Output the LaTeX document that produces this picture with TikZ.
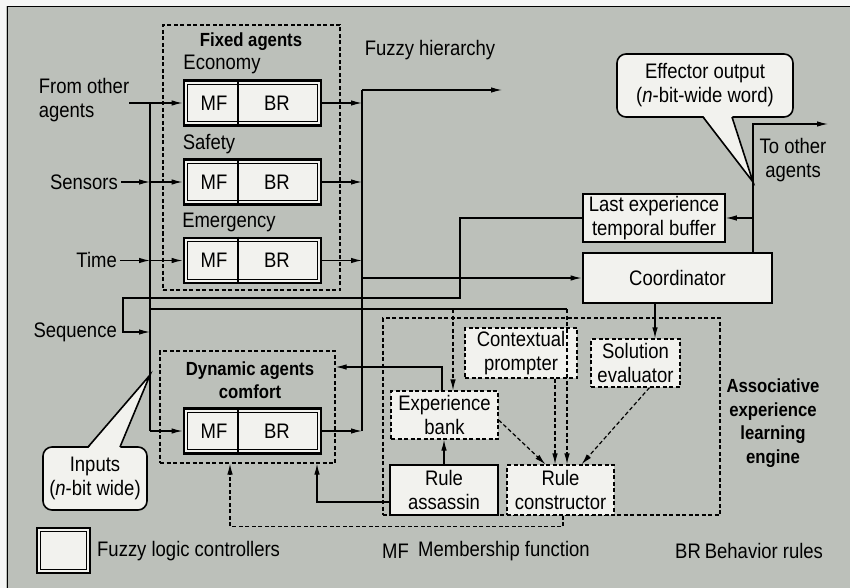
\documentclass[tikz,border=0pt]{standalone}
\usepackage{fontspec}
\setmainfont{Liberation Sans}[FakeStretch=0.88]
\usetikzlibrary{arrows.meta,calc}
\definecolor{bg}{RGB}{188,192,186}
\definecolor{boxfill}{RGB}{242,242,238}
\newcommand{\flcunit}[2]{%
  \node[flcouter] (#1) at (252.5,#2) {};
  \draw[line width=1pt] ([shift={(5pt,-5pt)}]#1.north west) rectangle ([shift={(-5pt,5pt)}]#1.south east);
  \draw[line width=2.2pt] ([xshift=-14.5pt]#1.north) -- ([xshift=-14.5pt]#1.south);
  \node[txt] (#1-mf) at (214,#2) {MF};
  \node[txt] (#1-br) at (277,#2) {BR};
}
\tikzset{
  txt/.style={font=\fontsize{21}{24}\selectfont, inner sep=0pt, align=center},
  btxt/.style={font=\fontsize{19}{23.5}\selectfont\bfseries, inner sep=0pt, align=center},
  wire/.style={line width=1.2pt},
  arr/.style={wire,-{Latex[length=11pt,width=5.5pt]}},
  dwire/.style={wire,dash pattern=on 4pt off 2.5pt},
  darr/.style={dwire,-{Latex[length=11pt,width=5.5pt]}},
  group/.style={draw,line width=1.2pt,dash pattern=on 4pt off 2.5pt},
  flcouter/.style={draw,line width=2.8pt,fill=boxfill,minimum width=137pt,minimum height=45pt,inner sep=0pt},
  solidbox/.style={draw,line width=1.6pt,fill=boxfill,txt},
  dashbox/.style={draw,line width=1.2pt,dash pattern=on 4pt off 2.5pt,fill=boxfill,txt},
  callbox/.style={draw,line width=1.6pt,fill=boxfill,rounded corners=9pt,txt},
}
\begin{document}
\begin{tikzpicture}[x=1pt,y=-1pt]
\useasboundingbox (0,0) rectangle (850,588);
\fill[bg] (0,0) rectangle (850,588);
\fill[white!85!bg] (0,0) rectangle (850,6);
\fill[white!85!bg] (0,0) rectangle (6,588);
\draw[line width=1pt] (7,588) -- (7,7) -- (850,7);

% groups
\node[group,minimum width=177pt,minimum height=265pt] (fixedg) at (251.5,157.5) {};
\node[group,minimum width=175pt,minimum height=112pt] (dyng) at (247.5,407) {};
\node[group,minimum width=337pt,minimum height=197pt] (assocg) at (551.5,416.5) {};

% fuzzy logic controllers
\flcunit{eco}{103}
\flcunit{saf}{182}
\flcunit{emer}{260.5}
\flcunit{dyn}{431}

% labels
\node[btxt] (fixedlbl) at (251,42) {Fixed agents};
\node[txt] (ecolbl) at (222,64) {Economy};
\node[txt] (saflbl) at (209,144) {Safety};
\node[txt] (emelbl) at (229,222) {Emergency};
\node[btxt] (dynlbl) at (250,380) {Dynamic agents\\comfort};
\node[txt,align=left] (fromlbl) at (84,100) {From other\\agents};
\node[txt,anchor=east] (senslbl) at (118,182) {Sensors};
\node[txt,anchor=east] (timelbl) at (117,260) {Time};
\node[txt,anchor=east] (seqlbl) at (117,332) {Sequence};
\node[txt] (fhlbl) at (430,50) {Fuzzy hierarchy};
\node[txt] (tolbl) at (793,160) {To other\\agents};
\node[btxt] (aelbl) at (773,423) {Associative\\experience\\learning\\engine};

% boxes
\node[solidbox,line width=2.8pt,minimum width=189pt,minimum height=50pt] (coord) at (677.5,278) {Coordinator};
\node[solidbox,minimum width=142pt,minimum height=48pt] (buf) at (654,218) {Last experience\\temporal buffer};
\node[dashbox,minimum width=112pt,minimum height=50pt] (prompt) at (521,353) {Contextual\\prompter};
\node[dashbox,minimum width=89pt,minimum height=48pt] (soleval) at (635.5,363) {Solution\\evaluator};
\node[dashbox,minimum width=107pt,minimum height=48pt] (bank) at (444.5,415) {Experience\\bank};
\node[solidbox,minimum width=108pt,minimum height=50pt] (assas) at (444,490) {Rule\\assassin};
\node[dashbox,minimum width=107pt,minimum height=50pt] (cons) at (560.5,490) {Rule\\constructor};

% left bus
\coordinate (bltop) at (150,103);
\coordinate (blbot) at (150,431);
\draw[wire] (bltop) -- (blbot);
\draw[arr] (fromlbl.east |- eco.west) -- (eco.west);
\draw[arr] ([xshift=3pt]senslbl.east |- saf.west) -- (bltop |- saf.west);
\draw[arr] (bltop |- saf.west) -- (saf.west);
\draw[arr] ([xshift=3pt]timelbl.east |- emer.west) -- (bltop |- emer.west);
\draw[arr] (bltop |- emer.west) -- (emer.west);
\draw[arr] (blbot) -- (dyn.west);

% sequence loop from buffer
\coordinate (sq1) at (460,298);
\coordinate (sq2) at (123,298);
\coordinate (sq3) at (150,332);
\draw[arr] (buf.west) -| (sq1) -- (sq2) |- (sq3);

% line to learning engine
\coordinate (le1) at (150,309);
\coordinate (le2) at (567,309);
\coordinate (le3) at (453,309);
\draw[wire] (le1) -- (le2);
\draw[darr] (le2) -- (le2 |- cons.north);
\draw[darr] (le3) -- (le3 |- bank.north);

% right bus
\coordinate (brtop) at (362,90);
\coordinate (brbot) at (362,431);
\coordinate (fhend) at (502,90);
\draw[wire] (brtop) -- (brbot);
\draw[arr] (eco.east) -- (brtop |- eco.east);
\draw[arr] (saf.east) -- (brtop |- saf.east);
\draw[arr] (emer.east) -- (brtop |- emer.east);
\draw[arr] (dyn.east) -- (brbot);
\draw[arr] (brtop) -- (fhend);
\draw[arr] (brtop |- coord.west) -- (coord.west);

% coordinator outputs
\coordinate (co1) at (753,124);
\coordinate (coout) at (828,124);
\draw[arr] (co1 |- coord.north) -- (co1) -- (coout);
\draw[arr] (co1 |- buf.east) -- (buf.east);
\draw[arr] ([xshift=-22.5pt]coord.south) -- ([xshift=19.5pt]soleval.north);

% into rule constructor
\draw[darr] ([yshift=-5pt]bank.east) -- ([xshift=-15pt]cons.north);
\draw[darr] ([xshift=34pt]prompt.south) -- ([xshift=34pt]prompt.south |- cons.north);
\draw[darr] ([xshift=14pt]soleval.south) -- ([xshift=21pt]cons.north);

% engine to dynamic agents
\draw[arr] (assas.north) -- (assas.north |- bank.south);
\draw[arr] ([xshift=-2.5pt]bank.north) |- ([yshift=40pt]dyng.east);
\draw[arr] ([yshift=-12pt]assas.west) -| ([xshift=69.5pt]dyng.south);
\draw[darr] ([xshift=2.5pt]cons.south) -- ++(0,11) -| ([xshift=-17.5pt]dyng.south);

% callouts
\node[callbox,minimum width=104pt,minimum height=63pt] (inp) at (95,478.5) {Inputs\\(\textit{n}-bit wide)};
\coordinate (inptip) at (150,375);
\fill[boxfill] (88,448.6) -- (inptip) -- (120,448.6) -- cycle;
\draw[line width=1.6pt,line join=miter] (88,447) -- (inptip) -- (120,447);

\node[callbox,minimum width=176pt,minimum height=63pt] (eff) at (705,85.5) {Effector output\\(\textit{n}-bit-wide word)};
\coordinate (efftip) at (753,182);
\fill[boxfill] (703,115.4) -- (efftip) -- (732,115.4) -- cycle;
\draw[line width=1.6pt] (703,117) -- (efftip) -- (732,117);

% legend
\node[flcouter,minimum width=53pt,minimum height=45pt] (leg) at (63.5,550.5) {};
\draw[line width=1pt] ([shift={(5pt,-5pt)}]leg.north west) rectangle ([shift={(-5pt,5pt)}]leg.south east);
\node[txt,anchor=west] (legtxt) at (97,551) {Fuzzy logic controllers};
\node[txt,anchor=west] (mfabbr) at (382,551) {MF};
\node[txt,anchor=west] (mftxt) at (418,551) {Membership function};
\node[txt,anchor=west] (brtxt) at (675,551) {BR\hspace{4pt}Behavior rules};
\end{tikzpicture}
\end{document}
